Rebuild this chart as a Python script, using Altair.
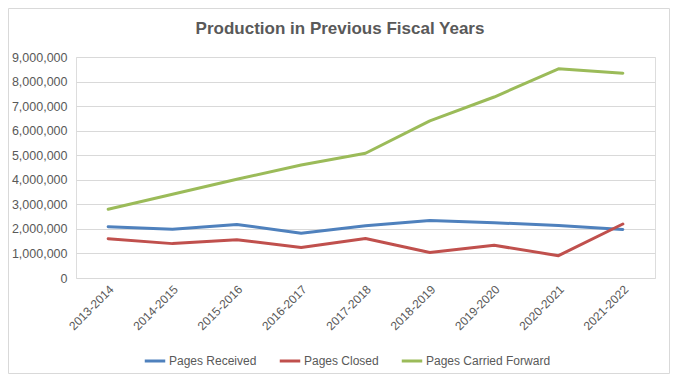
import altair as alt
import pandas as pd

years = ["2013-2014", "2014-2015", "2015-2016", "2016-2017", "2017-2018",
         "2018-2019", "2019-2020", "2020-2021", "2021-2022"]
pages_received = [2090000, 1990000, 2180000, 1820000, 2130000, 2340000, 2250000, 2140000, 1980000]
pages_closed = [1600000, 1400000, 1560000, 1240000, 1610000, 1040000, 1330000, 910000, 2200000]
pages_carried = [2800000, 3410000, 4020000, 4600000, 5080000, 6400000, 7370000, 8520000, 8340000]

series = ["Pages Received", "Pages Closed", "Pages Carried Forward"]
colors = ["#4F81BD", "#C0504D", "#9BBB59"]
y_ticks = [0, 1000000, 2000000, 3000000, 4000000, 5000000, 6000000, 7000000, 8000000, 9000000]
title_text = ["Production in Previous Fiscal Years"]

rows = []
for name, vals in zip(series, [pages_received, pages_closed, pages_carried]):
    for yr, v in zip(years, vals):
        rows.append({"Year": yr, "Series": name, "Value": v})
df = pd.DataFrame(rows)

W, H = 579, 221
FONT = "Liberation Sans"
GREY = "#595959"

lines = alt.Chart(df).mark_line(strokeWidth=3, strokeCap="round", strokeJoin="round").encode(
    x=alt.X("Year:N", sort=years, title=None,
            scale=alt.Scale(paddingInner=0, paddingOuter=0),
            axis=alt.Axis(labelAngle=-45, labelAlign="right", labelBaseline="middle",
                          labelPadding=9, labelOffset=3, ticks=False, domain=False, grid=False,
                          labelColor=GREY, labelFontSize=12, labelFont=FONT)),
    y=alt.Y("Value:Q", title=None,
            scale=alt.Scale(domain=[0, 9000000], nice=False),
            axis=alt.Axis(values=y_ticks, format=",d", ticks=False, domain=False,
                          gridColor="#D9D9D9", gridWidth=1, labelPadding=9,
                          labelColor=GREY, labelFontSize=12.5, labelFont=FONT)),
    color=alt.Color("Series:N", sort=series,
                    scale=alt.Scale(domain=series, range=colors),
                    legend=alt.Legend(title=None, orient="none", legendX=67, legendY=292,
                                      direction="horizontal", symbolType="stroke",
                                      symbolStrokeWidth=3, symbolSize=420,
                                      labelFontSize=12, labelColor=GREY, labelFont=FONT,
                                      columnPadding=16, labelOffset=2)),
)

border = alt.Chart(pd.DataFrame({"a": [0]})).mark_rect(
    fill="transparent", stroke="#D9D9D9", strokeWidth=1
).encode(x=alt.value(-67.5), x2=alt.value(593.5), y=alt.value(-48.5), y2=alt.value(316.5))

title = alt.Chart(pd.DataFrame({"t": title_text})).mark_text(
    fontSize=17, fontWeight="bold", color=GREY, font=FONT, align="center", baseline="alphabetic"
).encode(text="t:N", x=alt.value(264), y=alt.value(-23))

chart = alt.layer(border, title, lines).properties(
    width=W, height=H,
    autosize=alt.AutoSizeParams(type="none"),
    padding={"left": 68, "top": 49, "right": 15, "bottom": 96},
).configure_view(stroke=None).configure(background="white")

chart.save("out.html", embed_options={"renderer": "svg", "actions": False})
